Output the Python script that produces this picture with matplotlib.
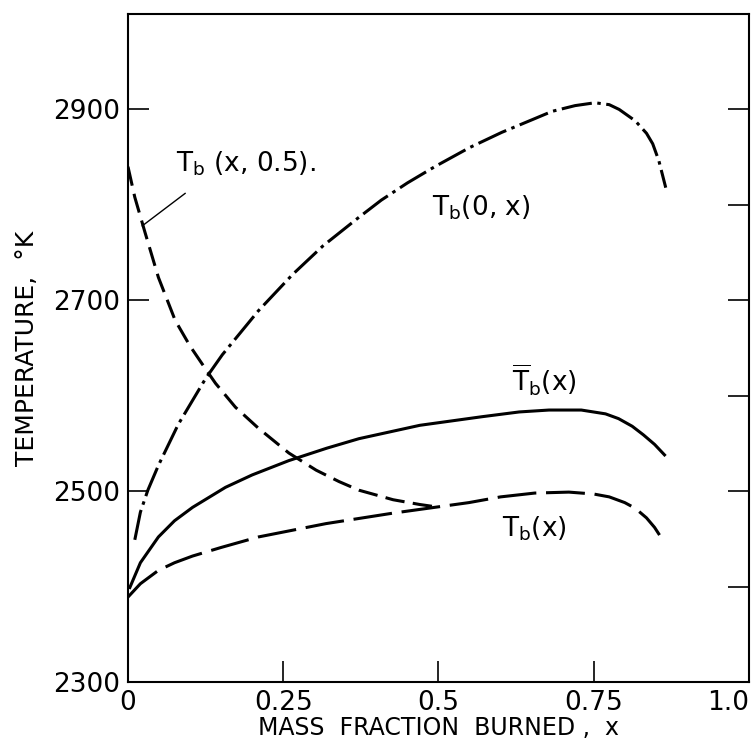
import matplotlib
matplotlib.use("Agg")
import matplotlib.pyplot as plt

# values
# Tb(0, x)  -- dash-dot
x_0x = [0.011, 0.02, 0.032, 0.049, 0.081, 0.125, 0.152, 0.21, 0.265, 0.314,
        0.37, 0.408, 0.45, 0.494, 0.55, 0.602, 0.65, 0.683, 0.72, 0.752,
        0.775, 0.791, 0.817, 0.835, 0.845, 0.855, 0.866]
t_0x = [2449, 2478, 2501, 2527, 2570, 2618, 2643, 2689, 2727, 2757,
        2786, 2805, 2823, 2840, 2860, 2876, 2889, 2898, 2904, 2907,
        2905, 2900, 2888, 2875, 2864, 2846, 2818]

# Tb(x, 0.5)  -- dashed
x_x05 = [0.0, 0.011, 0.0275, 0.049, 0.076, 0.1, 0.125, 0.141, 0.173, 0.21,
         0.259, 0.303, 0.34, 0.372, 0.427, 0.47, 0.502]
t_x05 = [2840, 2808, 2771, 2724, 2679, 2652, 2628, 2613, 2588, 2566,
         2540, 2522, 2510, 2501, 2491, 2486, 2483]

# mean Tb(x)  -- solid
x_mean = [0.003, 0.02, 0.049, 0.075, 0.104, 0.157, 0.2, 0.259, 0.32, 0.372,
          0.47, 0.57, 0.63, 0.678, 0.73, 0.769, 0.79, 0.812, 0.83, 0.848, 0.864]
t_mean = [2399, 2425, 2452, 2469, 2483, 2504, 2517, 2532, 2545, 2555,
          2569, 2578, 2583, 2585, 2585, 2581, 2576, 2568, 2559, 2549, 2538]

# Tb(x)  -- long dash
x_tb = [0.0, 0.02, 0.049, 0.075, 0.104, 0.15, 0.21, 0.319, 0.427, 0.549,
        0.6, 0.655, 0.71, 0.75, 0.775, 0.8, 0.817, 0.835, 0.848, 0.856]
t_tb = [2389, 2403, 2417, 2425, 2432, 2441, 2452, 2466, 2477, 2488,
        2494, 2498, 2499, 2497, 2494, 2488, 2482, 2472, 2462, 2454]

xticks = [0, 0.25, 0.5, 0.75, 1.0]
xticklabels = ["0", "0.25", "0.5", "0.75", "1.0"]
yticks = [2300, 2500, 2700, 2900]
yminor = [2400, 2600, 2800]

plt.rcParams["lines.scale_dashes"] = False
plt.rcParams["font.family"] = "DejaVu Sans"

fig = plt.figure(figsize=(7.55, 7.41), dpi=100)
ax = fig.add_axes([0.1695, 0.0796, 0.8225, 0.9015])

lw = 2.2
ax.plot(x_0x, t_0x, color="black", lw=lw, dashes=(22, 4, 2.5, 4))
ax.plot(x_x05, t_x05, color="black", lw=lw, dashes=(14, 6))
ax.plot(x_mean, t_mean, color="black", lw=lw)
ax.plot(x_tb, t_tb, color="black", lw=lw, dashes=(28, 7))

fs = 19
ax.text(0.078, 2843, r"$\mathregular{T_b}$ (x, 0.5).", fontsize=fs, va="center")
ax.plot([0.092, 0.023], [2812, 2778], color="black", lw=1.0)
ax.text(0.489, 2797, r"$\mathregular{T_b}$(0, x)", fontsize=fs, va="center")
ax.text(0.618, 2616, r"$\mathregular{\overline{T}_b}$(x)", fontsize=fs, va="center")
ax.text(0.602, 2461, r"$\mathregular{T_b}$(x)", fontsize=fs, va="center")

ax.set_xlim(0, 1.0)
ax.set_ylim(2300, 3000)
ax.set_xticks(xticks)
ax.set_xticklabels(xticklabels)
ax.set_yticks(yticks)
ax.set_yticks(yminor, minor=True)
ax.tick_params(which="both", direction="in", length=15, width=1.2,
               labelsize=fs, right=True, top=False, pad=6)
ax.tick_params(which="minor", left=False)
ax.get_xticklabels()[-1].set_horizontalalignment("right")

for s in ax.spines.values():
    s.set_linewidth(1.5)

ax.set_xlabel("MASS  FRACTION  BURNED ,  x", fontsize=17, labelpad=0)
ax.set_ylabel("TEMPERATURE,  \u00b0K", fontsize=18, labelpad=10)

fig.savefig("out.png", dpi=100)
